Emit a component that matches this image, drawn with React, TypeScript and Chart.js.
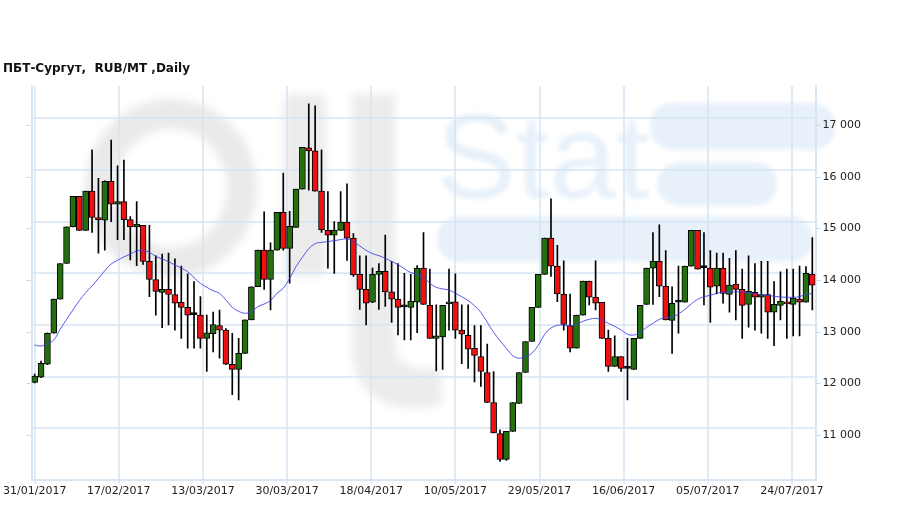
import React, { useEffect, useRef } from 'react';
import { Chart, registerables } from 'chart.js';

Chart.register(...registerables);

const chartTitle = 'ПБТ-Сургут,  RUB/MT ,Daily';

const xTickLabels = [
  '31/01/2017', '17/02/2017', '13/03/2017', '30/03/2017', '18/04/2017',
  '10/05/2017', '29/05/2017', '16/06/2017', '05/07/2017', '24/07/2017',
];
const xTickStep = 13.2;

const yTickValues = [11000, 12000, 13000, 14000, 15000, 16000, 17000];

const openV = [
  11890, 11990, 12240, 12840, 13500, 14190, 14900, 15490, 14830, 15590,
  15080, 15030, 15780, 15340, 15390, 15040, 14900, 14930, 14230, 13880,
  13630, 13690, 13590, 13440, 13340, 13200, 13190, 12740, 12830, 12990,
  12900, 12240, 12140, 12450, 13100, 13740, 14450, 13880, 14450, 15180,
  14480, 14890, 15630, 16430, 16370, 15590, 14830, 14740, 14830, 14990,
  14680, 13980, 13690, 13440, 13980, 14040, 13640, 13500, 13350, 13340,
  13440, 14100, 13380, 12740, 12770, 13410, 13450, 12900, 12800, 12550,
  12390, 12080, 11500, 10900, 10400, 10940, 11480, 12080, 12680, 13340,
  13980, 14680, 14140, 13600, 12990, 12550, 13190, 13850, 13540, 13440,
  12740, 12200, 12390, 12160, 12140, 12740, 13400, 14100, 14230, 13750,
  13090, 13440, 13440, 14140, 14830, 14110, 14100, 13750, 14100, 13590,
  13790, 13690, 13400, 13630, 13540, 13590, 13250, 13380, 13440, 13400,
  13500, 13440, 13980,
];
const highV = [
  12050, 12300, 12850, 13500, 14190, 14900, 15490, 15490, 15590, 16390,
  15840, 15790, 16580, 16080, 16190, 15100, 15390, 14930, 14930, 14340,
  14370, 14390, 14280, 14140, 13990, 13840, 13550, 13190, 13250, 13290,
  12930, 12840, 12740, 13100, 13740, 14450, 15190, 14590, 15180, 15940,
  15200, 15630, 16440, 17280, 17240, 16390, 15580, 15000, 15580, 15730,
  14770, 14340, 14340, 14100, 14190, 14740, 14230, 14190, 14000, 13980,
  14150, 14790, 14080, 13390, 13380, 14080, 13990, 13390, 13390, 12990,
  12990, 12630, 12100, 10970, 10940, 11500, 12080, 12680, 13340, 13980,
  14680, 15440, 14540, 14240, 13600, 13190, 13850, 13850, 14240, 13440,
  12900, 12790, 12390, 12740, 12740, 13380, 14100, 14790, 14940, 14440,
  13740, 14140, 14140, 14830, 14830, 14790, 14440, 14390, 14390, 14290,
  14440, 14080, 14340, 14190, 14230, 14230, 13840, 14030, 14080, 14080,
  14140, 14130, 14690,
];
const lowV = [
  11880, 11980, 12230, 12840, 13500, 14190, 14900, 14830, 14830, 14790,
  14390, 14450, 15000, 14650, 14650, 14260, 14150, 14170, 13550, 13190,
  12950, 13000, 12900, 12740, 12550, 12550, 12550, 12100, 12480, 12360,
  12230, 11650, 11550, 12450, 13100, 13740, 13690, 13290, 14450, 14450,
  13810, 14890, 15630, 15610, 15590, 14790, 14100, 14000, 14830, 14250,
  13940, 13300, 13000, 13430, 13300, 13360, 13050, 12810, 12710, 12710,
  12850, 13400, 12740, 12110, 12140, 12900, 12740, 12250, 12160, 11900,
  11810, 11500, 10910, 10360, 10380, 10940, 11480, 12080, 12680, 13340,
  13980, 13940, 13450, 12900, 12480, 12550, 13190, 13390, 13290, 12740,
  12100, 12200, 12100, 11550, 12140, 12740, 13400, 13400, 13550, 13100,
  12450, 12840, 13440, 14140, 14080, 13390, 13050, 13600, 13420, 13250,
  13100, 12740, 12960, 12900, 12840, 12740, 12600, 13100, 12740, 12790,
  12790, 13440, 13290,
];
const closeV = [
  12010, 12260, 12840, 13500, 14190, 14900, 15490, 14830, 15590, 15080,
  15040, 15780, 15340, 15390, 15040, 14900, 14950, 14230, 13880, 13650,
  13690, 13590, 13420, 13340, 13190, 13200, 12740, 12850, 13010, 12900,
  12240, 12140, 12450, 13100, 13740, 14450, 13880, 14450, 15180, 14480,
  14910, 15630, 16440, 16370, 15590, 14840, 14740, 14830, 14990, 14680,
  13970, 13690, 13420, 13980, 14040, 13640, 13500, 13340, 13350, 13460,
  14100, 13400, 12740, 12790, 13380, 13450, 12900, 12820, 12530, 12410,
  12100, 11500, 10910, 10400, 10940, 11500, 12080, 12680, 13340, 13980,
  14680, 14140, 13600, 13010, 12550, 13190, 13850, 13540, 13420, 12740,
  12200, 12390, 12160, 12160, 12740, 13380, 14100, 14230, 13750, 13100,
  13420, 13440, 14140, 14830, 14080, 14110, 13730, 14100, 13610, 13770,
  13690, 13380, 13650, 13540, 13590, 13250, 13400, 13460, 13410, 13520,
  13440, 14000, 13770,
];
const maV = [
  12613, 12593, 12638, 12710, 12916, 13110, 13290, 13471, 13626, 13755,
  13903, 14051, 14181, 14252, 14316, 14374, 14432, 14445, 14406, 14329,
  14277, 14226, 14161, 14103, 14032, 13916, 13806, 13729, 13664, 13613,
  13484, 13342, 13264, 13226, 13258, 13355, 13406, 13471, 13613, 13710,
  13903, 14129, 14310, 14477, 14574, 14600, 14613, 14632, 14652, 14664,
  14613, 14529, 14445, 14380, 14342, 14290, 14232, 14168, 14090, 14013,
  13981, 13923, 13806, 13729, 13697, 13677, 13613, 13548, 13471, 13374,
  13245, 13052, 12858, 12697, 12548, 12406, 12355, 12387, 12452, 12606,
  12819, 12942, 12993, 13000, 12980, 13013, 13071, 13110, 13129, 13097,
  13032, 12974, 12903, 12819, 12806, 12858, 12955, 13032, 13110, 13142,
  13148, 13213, 13303, 13406, 13497, 13548, 13574, 13613, 13632, 13639,
  13639, 13639, 13619, 13606, 13587, 13574, 13555, 13542, 13535, 13535,
  13548, 13594, 13606,
];

const Y_MIN = 10000;
const Y_MAX = 17625;

const GRID = 'rgba(214,228,241,0.75)';
const AXIS = '#d9e6f2';
const UP = '#247010';
const DOWN = '#ee1111';

function fmtThousands(v: number): string {
  return String(v).replace(/\B(?=(\d{3})+(?!\d))/g, ' ');
}

const decorPlugin = {
  id: 'decor',
  beforeDraw(chart: any) {
    const ctx = chart.ctx as CanvasRenderingContext2D;
    ctx.save();
    // watermark "Oil"
    ctx.filter = 'blur(4px)';
    ctx.strokeStyle = '#eaeaea';
    ctx.lineWidth = 30;
    ctx.beginPath();
    ctx.ellipse(171, 188, 71, 74, 0, 0, Math.PI * 2);
    ctx.stroke();
    ctx.fillStyle = '#ececec';
    ctx.beginPath();
    ctx.roundRect(284, 94, 42, 182, 8);
    ctx.fill();
    ctx.beginPath();
    ctx.moveTo(352, 94);
    ctx.lineTo(395, 94);
    ctx.lineTo(395, 345);
    ctx.quadraticCurveTo(398, 372, 432, 368);
    ctx.lineTo(440, 367);
    ctx.lineTo(442, 405);
    ctx.quadraticCurveTo(356, 420, 352, 350);
    ctx.closePath();
    ctx.fill();
    // watermark "Stat"
    ctx.filter = 'blur(2px)';
    ctx.fillStyle = '#e8f1fa';
    ctx.font = '120px "Liberation Sans"';
    ctx.textBaseline = 'alphabetic';
    ctx.fillText('Stat', 436, 198);
    ctx.beginPath();
    ctx.roundRect(650, 103, 185, 47, 22);
    ctx.fill();
    ctx.beginPath();
    ctx.roundRect(657, 162, 120, 44, 22);
    ctx.fill();
    ctx.beginPath();
    ctx.roundRect(437, 216, 376, 46, 22);
    ctx.fill();
    ctx.restore();
  },
  afterDraw(chart: any) {
    const ctx = chart.ctx as CanvasRenderingContext2D;
    const ys = chart.scales.y;
    const area = chart.chartArea;
    ctx.save();
    ctx.strokeStyle = '#c5d6e6';
    ctx.lineWidth = 1;
    yTickValues.forEach((v) => {
      const py = Math.round(ys.getPixelForValue(v) + 6.7) + 0.5;
      ctx.beginPath();
      ctx.moveTo(area.left - 5, py);
      ctx.lineTo(area.left - 1, py);
      ctx.moveTo(area.right + 1, py);
      ctx.lineTo(area.right + 5, py);
      ctx.stroke();
    });
    ctx.fillStyle = '#111';
    ctx.font = 'bold 12px "DejaVu Sans"';
    ctx.textBaseline = 'middle';
    ctx.textAlign = 'left';
    ctx.fillText(chartTitle, 3, 69);
    ctx.restore();
  },
};

export default function App() {
  const ref = useRef<HTMLCanvasElement | null>(null);

  useEffect(() => {
    if (!ref.current) return;
    const idx = openV.map((_, i) => i);
    const bodies = idx.map((i) => ({
      x: i,
      y: [Math.min(openV[i], closeV[i]), Math.max(openV[i], closeV[i])],
    }));
    const bodyColors = idx.map((i) =>
      closeV[i] > openV[i] ? UP : closeV[i] < openV[i] ? DOWN : '#000'
    );
    const wicks = idx.map((i) => ({ x: i, y: [lowV[i], highV[i]] }));
    const ma = idx.map((i) => ({ x: i, y: maV[i] }));

    const chart = new Chart(ref.current, {
      type: 'bar',
      data: {
        datasets: [
          {
            type: 'line',
            data: ma as any,
            borderColor: 'rgba(60,60,235,0.85)',
            borderWidth: 1,
            pointRadius: 0,
            tension: 0.35,
            fill: false,
            yAxisID: 'y',
            xAxisID: 'x',
            order: 0,
          } as any,
          {
            type: 'bar',
            data: bodies as any,
            backgroundColor: bodyColors,
            borderColor: '#000',
            borderWidth: 1,
            borderSkipped: false,
            barThickness: 6,
            minBarLength: 2,
            grouped: false,
            yAxisID: 'y',
            xAxisID: 'x',
            order: 1,
          } as any,
          {
            type: 'bar',
            data: wicks as any,
            backgroundColor: '#000',
            borderWidth: 0,
            barThickness: 1,
            grouped: false,
            yAxisID: 'y',
            xAxisID: 'x',
            order: 2,
          } as any,
        ],
      },
      options: {
        animation: false,
        responsive: false,
        maintainAspectRatio: false,
        events: [],
        layout: { padding: { top: 86, left: 0, right: 0, bottom: 0 } },
        plugins: {
          legend: { display: false },
          tooltip: { enabled: false },
          title: { display: false },
        },
        scales: {
          x: {
            type: 'linear',
            position: 'bottom',
            offset: false,
            min: -0.5,
            max: 122.5,
            afterBuildTicks: (s: any) => {
              s.ticks = xTickLabels.map((_, i) => ({ value: i * xTickStep }));
            },
            afterFit: (s: any) => {
              s.height = 29;
            },
            ticks: {
              autoSkip: false,
              maxRotation: 0,
              padding: 1,
              color: '#222',
              font: { family: '"DejaVu Sans"', size: 11 },
              callback: (_v: any, i: number) => xTickLabels[i],
            },
            grid: {
              offset: false,
              color: GRID,
              lineWidth: 2,
              drawTicks: true,
              tickLength: 4,
              tickColor: '#c5d6e6',
              tickWidth: 1,
            },
            border: { color: AXIS, width: 2 },
          },
          y: {
            type: 'linear',
            position: 'right',
            min: Y_MIN,
            max: Y_MAX,
            afterBuildTicks: (s: any) => {
              s.ticks = yTickValues.map((v) => ({ value: v }));
            },
            afterFit: (s: any) => {
              s.width = 93.5;
            },
            ticks: {
              padding: 7,
              labelOffset: 6.7,
              color: '#222',
              font: { family: '"DejaVu Sans"', size: 11 },
              callback: (v: any) => fmtThousands(Number(v)),
            },
            grid: { color: GRID, lineWidth: 2, drawTicks: false },
            border: { color: AXIS, width: 2 },
          },
          yL: {
            type: 'linear',
            position: 'left',
            min: Y_MIN,
            max: Y_MAX,
            afterBuildTicks: (s: any) => {
              s.ticks = yTickValues.map((v) => ({ value: v }));
            },
            afterFit: (s: any) => {
              s.width = 31.5;
            },
            ticks: { display: false },
            grid: { drawOnChartArea: false, drawTicks: false },
            border: { color: AXIS, width: 2 },
          },
        },
      } as any,
      plugins: [decorPlugin],
    });
    return () => chart.destroy();
  }, []);

  return (
    <div style={{ position: 'absolute', left: 0, top: 0, width: 909, height: 509, background: '#fff' }}>
      <canvas ref={ref} width={909} height={509} style={{ display: 'block', width: 909, height: 509 }} />
    </div>
  );
}
